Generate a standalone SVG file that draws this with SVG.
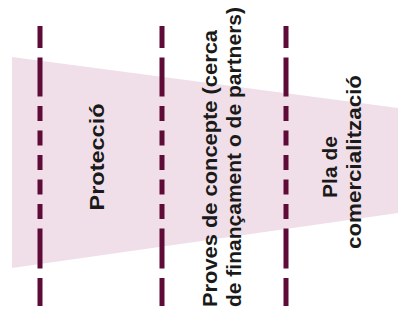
<svg xmlns="http://www.w3.org/2000/svg" width="398" height="329" viewBox="0 0 398 329">
<style>
.dash{stroke:#5e0b37;stroke-width:5;fill:none;stroke-dasharray:22 9.5 39 9.5 15 9.5 15 9.5 15 9.5 15 9.5 15 9.5 40 9.5 28 100}
.t{font-family:"Liberation Sans",Arial,sans-serif;font-weight:bold;font-size:21px;fill:#1a1a1a}
</style>
<rect x="0" y="0" width="398" height="329" fill="#ffffff"/>
<g id="band">
<polygon points="12,57 398,108 398,213 12,268" fill="#f0dfe8"/>
</g>
<g id="connectors">
<line class="dash" x1="40" y1="26" x2="40" y2="310"/>
<line class="dash" x1="162" y1="26" x2="162" y2="310"/>
<line class="dash" x1="286" y1="26" x2="286" y2="310"/>
</g>
<g id="proteccio">
<text class="t" transform="translate(104,157) rotate(-90)" text-anchor="middle" textLength="107" lengthAdjust="spacingAndGlyphs">Protecció</text>
</g>
<g id="proves">
<text class="t" transform="translate(217,307) rotate(-90)" textLength="277" lengthAdjust="spacingAndGlyphs">Proves de concepte (cerca</text>
<text class="t" transform="translate(241,307) rotate(-90)" textLength="300" lengthAdjust="spacingAndGlyphs">de finançament o de partners)</text>
</g>
<g id="pla">
<text class="t" transform="translate(337,167) rotate(-90)" text-anchor="middle">Pla de</text>
<text class="t" transform="translate(361,162) rotate(-90)" text-anchor="middle" textLength="174" lengthAdjust="spacingAndGlyphs">comercialització</text>
</g>
</svg>
